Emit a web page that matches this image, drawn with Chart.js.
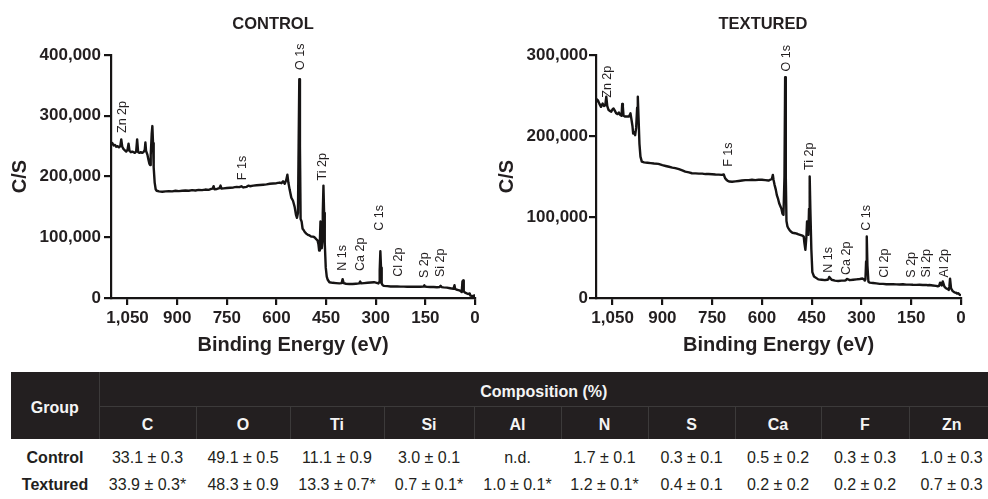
<!DOCTYPE html>
<html>
<head>
<meta charset="utf-8">
<script src="https://cdn.jsdelivr.net/npm/chart.js@4.4.1/dist/chart.umd.min.js"></script>
<style>
html,body{margin:0;padding:0;background:#fff;width:988px;height:499px;overflow:hidden;font-family:"Liberation Sans",Arial,sans-serif;color:#231f20;}
.panel{position:absolute;top:0;width:494px;height:370px;}
.panel canvas{position:absolute;left:0;top:0;}
.ttl{position:absolute;top:13px;height:20px;line-height:20px;font-weight:bold;font-size:16.5px;transform:translateX(-50%);white-space:nowrap;color:#231f20;}
table{position:absolute;left:11px;top:372px;border-collapse:collapse;table-layout:fixed;width:977px;font-size:16px;}
th,td{padding:0;text-align:center;vertical-align:middle;white-space:nowrap;overflow:visible;}
thead th{background:#231f20;color:#f4f4f4;font-weight:bold;}
thead tr.r1{height:34px;}
thead tr.r2{height:33px;}
th.grp{border-right:1px solid #3c3a3a;padding-top:5px;}
th.comp{border-bottom:1px solid #3c3a3a;padding-top:6px;}
tr.r2 th{padding-top:5px;}
tr.r2 th + th{border-left:1px solid #3c3a3a;}
tbody tr.d1{height:35px;}
tbody tr.d2{height:20px;}
tbody td.g{font-weight:bold;}
tbody tr.d1 td{padding-top:2px;}
tbody tr.d2 td{padding-top:1px;}
</style>
</head>
<body>
<div class="panel" style="left:0"><canvas id="c1" width="494" height="370"></canvas></div>
<div class="panel" style="left:494px"><canvas id="c2" width="494" height="370"></canvas></div>
<div class="ttl" id="t1" style="left:273px">CONTROL</div>
<div class="ttl" id="t2" style="left:763px">TEXTURED</div>
<table id="tbl"></table>
<script>
// ---------- DATA ----------
const panelTitles = ['CONTROL', 'TEXTURED'];
const xAxisTitle = 'Binding Energy (eV)';
const yAxisTitle = 'C/S';

const controlEnergy = [1100,1096,1092,1088,1084,1080,1076,1072,1069,1066,1062,1058,1054,1050,1047,1044,1040,1036,1032,1028,1024,1021,1018,1014,1010,1006,1002,998,996,994,990,987,984,982,980,977,975,973,971,968,965,962,955,945,935,925,915,905,895,885,875,865,855,845,835,825,815,805,797,793,790,787,780,772,769,766,760,750,740,730,720,712,706,700,690,685,680,670,660,650,640,630,620,610,600,590,585,580,575,570,567,564,560,555,550,545,541,538,535,533,531,529,527,524,521,518,515,510,505,500,495,490,485,480,476,473,471,469,467,465,463,461,460,458,456,454,451,448,445,440,430,420,410,403,400,397,390,380,370,360,350,347,344,335,325,315,305,297,292,290,288,286,284,282,279,275,265,255,245,235,225,215,205,195,185,175,165,155,153,151,145,135,125,115,107,104,101,95,85,75,65,62,60,55,50,45,40,38,36,34,30,25,20,16,14,10,6,3,1,0];
const controlCounts = [256000,255000,251000,252000,249000,250000,248000,250000,261000,249000,245000,243000,241000,244000,254000,242000,240000,241000,240000,239000,241000,261000,240000,239000,240000,239000,240000,244000,256000,242000,236000,228000,221000,219000,235000,270000,283000,255000,215000,190000,179000,176500,175500,175000,175500,176000,175500,176500,176000,176500,177000,176500,177500,177000,178000,177500,178500,178000,179500,180000,184000,179000,179500,181000,185000,180000,180500,181000,181500,182000,183000,182500,184000,182000,183000,185000,184000,185000,185500,186000,186500,187000,188000,188500,189000,190000,189000,192000,188000,195000,203000,190000,178000,165000,160000,150000,137000,132000,140000,250000,360000,250000,130000,126000,114000,112000,109000,106000,104000,103000,101000,101000,100000,97000,95000,88000,78000,90000,126000,105000,82000,95000,140000,185000,140000,90000,50000,35000,30000,26000,25000,24500,24000,24500,31000,24500,23500,23000,23000,23500,24000,27000,24000,24500,25000,25500,26000,25000,24000,26000,45000,77000,50000,24000,21000,20000,19500,19000,19000,19000,18800,18700,18600,18500,18500,18400,18500,19000,21000,19000,18300,18000,18000,17800,18200,20000,18000,17500,17000,16000,15000,21000,15000,13500,13000,12000,10000,27000,29000,11000,8800,7500,6600,7500,4000,3500,3000,4000,2000,1500];

const texturedEnergy = [1100,1097,1094,1090,1085,1080,1076,1072,1069,1066,1062,1058,1054,1050,1047,1043,1039,1035,1031,1027,1023,1021,1019,1017,1012,1006,1001,998,996,993,990,988,985,982,979,976,974,972,969,966,962,955,945,935,925,912,900,890,880,870,861,850,840,831,820,811,800,790,780,770,761,750,740,730,721,715,711,707,703,698,690,680,670,660,650,640,630,620,610,600,590,580,575,570,567,565,562,558,555,551,548,544,541,538,535,532,530,528,526,523,520,517,513,508,500,492,485,478,474,472,469,466,464,462,460,458,456,454,451,448,443,430,420,410,403,400,397,390,380,370,360,350,347,344,335,325,315,305,297,292,290,288,286,284,282,279,275,265,255,245,235,225,215,205,195,185,175,165,155,145,135,125,115,105,100,95,85,75,70,66,63,58,55,50,45,40,37,35,33,30,25,20,15,12,8,4,0];
const texturedCounts = [245000,243000,244000,240000,236000,240000,237000,238000,248600,237000,232000,231000,230000,233000,234000,231000,228000,227000,229000,226000,225000,239600,236000,225000,224000,224000,224000,226000,228000,220000,212000,203000,205000,201000,210000,235000,248600,225000,190000,174600,168400,167500,167000,166500,166000,165600,164000,163000,162000,161000,160300,159000,157500,156000,155000,154000,153800,153500,153500,153000,153000,152800,152500,152300,152000,152500,148000,146000,144500,143800,143500,144000,144500,145000,145500,145500,146000,145500,146000,146000,145500,145000,146000,147000,152000,146000,140000,133500,127000,122000,117000,113000,110000,104000,102700,150000,272500,150000,95000,88300,86000,84000,82000,80500,80000,79000,78000,77000,76000,68000,59500,75000,94500,80000,78000,110000,150000,110000,60000,32000,26600,23000,22500,22000,22500,23000,26000,22500,21500,21000,21500,21500,22000,23500,22000,22500,23000,23500,24000,23000,21500,23000,45000,76000,40000,20000,19000,18500,18000,17500,17500,17000,17000,17000,16800,16700,17000,16500,16500,16300,16200,16300,16000,16200,15800,16000,15500,15000,14500,15000,19000,15500,20500,14000,12000,11000,10000,14000,23800,12000,8500,7000,6500,5500,6000,4000,3500,2000];

const controlPeakNames = ['Zn 2p','F 1s','O 1s','Ti 2p','N 1s','Ca 2p','C 1s','Cl 2p','S 2p','Si 2p'];
const controlPeakEnergy = [1066,703,528,460,400,347,287,231,153,103];
const controlPeakCounts = [298000,214000,397000,216000,66000,72000,132000,59000,54000,58000];

const texturedPeakNames = ['Zn 2p','F 1s','O 1s','Ti 2p','N 1s','Ca 2p','C 1s','Cl 2p','S 2p','Si 2p','Al 2p'];
const texturedPeakEnergy = [1065,700,527,456,398,346,285,229,150,103,51];
const texturedPeakCounts = [267000,177000,296000,175000,47000,49000,99000,43000,41000,43000,43000];

const controlYMax = 400000;
const texturedYMax = 300000;
const energyMax = 1100;
const energyStep = 150;
const countsStep = 100000;

const tableGroupHeader = 'Group';
const tableSpanHeader = 'Composition (%)';
const elementNames = ['C','O','Ti','Si','Al','N','S','Ca','F','Zn'];
const groupNames = ['Control','Textured'];
const controlComposition = ['33.1 ± 0.3','49.1 ± 0.5','11.1 ± 0.9','3.0 ± 0.1','n.d.','1.7 ± 0.1','0.3 ± 0.1','0.5 ± 0.2','0.3 ± 0.3','1.0 ± 0.3'];
const texturedComposition = ['33.9 ± 0.3*','48.3 ± 0.9','13.3 ± 0.7*','0.7 ± 0.1*','1.0 ± 0.1*','1.2 ± 0.1*','0.4 ± 0.1','0.2 ± 0.2','0.2 ± 0.2','0.7 ± 0.3'];

// ---------- RENDER ----------
const FONT = '"Liberation Sans", Arial, Helvetica, sans-serif';
const INK = '#231f20';
const LINE = '#161414';

const peakLabelPlugin = {
  id: 'peakLabels',
  afterDatasetsDraw(chart, args, opts) {
    const {ctx, scales: {x, y}} = chart;
    ctx.save();
    ctx.font = '12.5px ' + FONT;
    ctx.fillStyle = INK;
    ctx.textAlign = 'center';
    ctx.textBaseline = 'middle';
    opts.names.forEach((n, i) => {
      const px = x.getPixelForValue(opts.energy[i]);
      const py = y.getPixelForValue(opts.counts[i]);
      ctx.save();
      ctx.translate(px, py);
      ctx.rotate(-Math.PI / 2);
      ctx.fillText(n, 0, 0);
      ctx.restore();
    });
    ctx.restore();
  }
};

function makeChart(id, energy, counts, yMax, names, pe, pc, L) {
  const pts = energy.map((e, i) => ({x: e, y: counts[i]}));
  return new Chart(document.getElementById(id), {
    type: 'line',
    data: {datasets: [{data: pts, borderColor: LINE, borderWidth: 2.4, pointRadius: 0, tension: 0, fill: false, borderJoinStyle: 'round'}]},
    options: {
      responsive: false, animation: false, devicePixelRatio: 1,
      layout: {padding: {left: 0, right: L.padRight, top: 55, bottom: 0}},
      plugins: {legend: {display: false}, tooltip: {enabled: false}, title: {display: false},
        peakLabels: {names: names, energy: pe, counts: pc}},
      scales: {
        x: {
          type: 'linear', min: 0, max: energyMax, reverse: true,
          afterFit: s => { s.height = 72; },
          border: {display: true, color: LINE, width: 2.2},
          grid: {display: true, drawOnChartArea: false, drawTicks: true, tickLength: 7, color: LINE, lineWidth: 2.2},
          ticks: {stepSize: energyStep, includeBounds: false, autoSkip: false, maxRotation: 0, minRotation: 0, padding: 3, color: INK,
            font: {family: FONT, size: 17, weight: 'bold'}, callback: v => v.toLocaleString('en-US')},
          title: {display: true, text: xAxisTitle, color: INK, font: {family: FONT, size: 20, weight: 'bold'}, padding: {top: 0, bottom: 13}}
        },
        y: {
          type: 'linear', min: 0, max: yMax,
          afterFit: s => { s.width = L.yWidth; },
          border: {display: true, color: LINE, width: 2.2},
          grid: {display: true, drawOnChartArea: false, drawTicks: true, tickLength: 7, color: LINE, lineWidth: 2.2},
          ticks: {stepSize: countsStep, padding: L.tickPad, color: INK,
            font: {family: FONT, size: 17, weight: 'bold'}, callback: v => v.toLocaleString('en-US')},
          title: {display: true, text: yAxisTitle, color: INK, font: {family: FONT, size: 20, weight: 'bold'}, padding: {top: L.titlePad, bottom: 0}}
        }
      }
    },
    plugins: [peakLabelPlugin]
  });
}

document.getElementById('t1').textContent = panelTitles[0];
document.getElementById('t2').textContent = panelTitles[1];

makeChart('c1', controlEnergy, controlCounts, controlYMax, controlPeakNames, controlPeakEnergy, controlPeakCounts,
  {yWidth: 111, padRight: 19, tickPad: 3, titlePad: 8});
makeChart('c2', texturedEnergy, texturedCounts, texturedYMax, texturedPeakNames, texturedPeakEnergy, texturedPeakCounts,
  {yWidth: 102, padRight: 27, tickPad: 1, titlePad: 1});

// table
const colWidths = [88, 97, 94, 94, 90, 87, 87, 87, 86, 88, 79];
const tbl = document.getElementById('tbl');
let html = '<colgroup>' + colWidths.map(w => '<col style="width:' + w + 'px">').join('') + '</colgroup>';
html += '<thead><tr class="r1"><th class="grp" rowspan="2">' + tableGroupHeader + '</th><th class="comp" colspan="' + elementNames.length + '">' + tableSpanHeader + '</th></tr>';
html += '<tr class="r2">' + elementNames.map((e, i) => '<th' + (i === elementNames.length - 1 ? ' style="padding-left:6px"' : '') + '>' + e + '</th>').join('') + '</tr></thead><tbody>';
[controlComposition, texturedComposition].forEach((row, r) => {
  html += '<tr class="d' + (r + 1) + '"><td class="g">' + groupNames[r] + '</td>' +
    row.map((v, i) => '<td' + (i === row.length - 1 ? ' style="padding-left:6px"' : '') + '>' + v + '</td>').join('') + '</tr>';
});
html += '</tbody>';
tbl.innerHTML = html;
</script>
</body>
</html>
